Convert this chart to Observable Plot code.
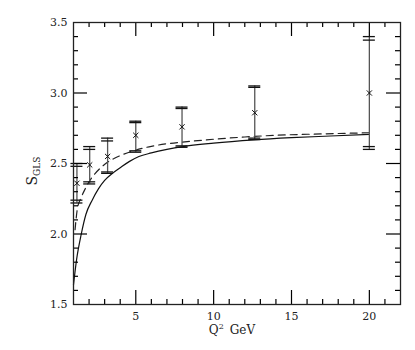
<!DOCTYPE html>
<html><head><meta charset="utf-8">
<script src="https://cdn.jsdelivr.net/npm/d3@7"></script>
<script src="https://cdn.jsdelivr.net/npm/@observablehq/plot@0.6"></script>
<style>body{margin:0;background:#fff}</style>
</head><body><div id="chart"></div>
<script>
// Data points (Q^2, S_GLS) with double error caps
const q2Points = [1.22, 2.04, 3.19, 5.0, 7.97, 12.64, 20.0];
const sValues  = [2.36, 2.49, 2.55, 2.70, 2.76, 2.86, 3.00];
const hiOuter  = [2.50, 2.62, 2.68, 2.80, 2.90, 3.05, 3.40];
const hiInner  = [2.48, 2.60, 2.66, 2.79, 2.89, 3.04, 3.375];
const loInner  = [2.24, 2.37, 2.44, 2.59, 2.625, 2.68, 2.62];
const loOuter  = [2.22, 2.355, 2.43, 2.58, 2.615, 2.67, 2.60];

// Solid theory curve
const solidQ2 = [1.0, 1.2, 1.5, 1.8, 2.2, 2.6, 3.0, 3.5, 4.0, 4.6, 5.2, 6.0, 7.0, 8.0, 10.0, 12.6, 15.0, 17.5, 20.0];
const solidS  = [1.64, 1.82, 2.00, 2.14, 2.24, 2.32, 2.38, 2.43, 2.47, 2.515, 2.55, 2.575, 2.60, 2.62, 2.645, 2.668, 2.683, 2.695, 2.706];

// Dashed theory curve
const dashQ2 = [1.1, 1.25, 1.5, 1.75, 2.0, 2.4, 2.8, 3.2, 3.6, 4.2, 5.0, 6.0, 7.0, 8.3, 10.0, 12.0, 14.0, 17.0, 20.0];
const dashS  = [2.03, 2.18, 2.26, 2.32, 2.37, 2.43, 2.475, 2.51, 2.535, 2.565, 2.595, 2.622, 2.64, 2.655, 2.672, 2.688, 2.70, 2.71, 2.718];

// Tick labels
const xTickLabels = [5, 10, 15, 20];
const yTickLabels = [1.5, 2.0, 2.5, 3.0, 3.5];

const W = 415, H = 350, mL = 73, mR = 15, mT = 22, mB = 46;
const xDom = [1, 22], yDom = [1.5, 3.5];
const fw = W - mL - mR, fh = H - mT - mB;
const pxX = fw / (xDom[1] - xDom[0]);
const pxY = fh / (yDom[1] - yDom[0]);

const points = q2Points.map((q, i) => ({q, s: sValues[i], ho: hiOuter[i], hi: hiInner[i], li: loInner[i], lo: loOuter[i]}));
const solid = solidQ2.map((q, i) => ({q, s: solidS[i]}));
const dashed = dashQ2.map((q, i) => ({q, s: dashS[i]}));

// Tick mark tables (inward ticks on all four sides)
const xTickRows = d3.range(2, 22).map(v => ({v, len: v % 5 === 0 ? 14 : 5}));
const yTickRows = d3.range(16, 35).map(k => ({v: k / 10, len: k % 5 === 0 ? 14 : 5}));

const chart = Plot.plot({
  width: W, height: H,
  marginLeft: mL, marginRight: mR, marginTop: mT, marginBottom: mB,
  style: {fontFamily: "DejaVu Serif", fontSize: "11px", color: "#222", background: "#fff"},
  x: {domain: xDom, label: null},
  y: {domain: yDom, label: null},
  marks: [
    Plot.axisX({ticks: xTickLabels, tickSize: 0, tickPadding: 8, label: null}),
    Plot.axisY({ticks: yTickLabels, tickSize: 0, tickPadding: 6, tickFormat: d3.format(".1f"), label: null}),
    Plot.line(solid, {x: "q", y: "s", curve: "monotone-x", stroke: "#111", strokeWidth: 1.2}),
    Plot.line(dashed, {x: "q", y: "s", curve: "monotone-x", stroke: "#222", strokeWidth: 1.2, strokeDasharray: "7,5"}),
    Plot.ruleX(points, {x: "q", y1: "lo", y2: "ho", stroke: "#555", strokeWidth: 1.3}),
    Plot.ruleY(points, {y: "ho", x1: "q", x2: "q", insetLeft: -6, insetRight: -6, stroke: "#111", strokeWidth: 1.3}),
    Plot.ruleY(points, {y: "hi", x1: "q", x2: "q", insetLeft: -6, insetRight: -6, stroke: "#111", strokeWidth: 1.3}),
    Plot.ruleY(points, {y: "li", x1: "q", x2: "q", insetLeft: -6, insetRight: -6, stroke: "#111", strokeWidth: 1.3}),
    Plot.ruleY(points, {y: "lo", x1: "q", x2: "q", insetLeft: -6, insetRight: -6, stroke: "#111", strokeWidth: 1.3}),
    Plot.dot(points, {x: "q", y: "s", symbol: "times", r: 2.5, stroke: "#111", strokeWidth: 1}),
    Plot.ruleX(xTickRows, {x: "v", y1: () => yDom[0], y2: d => yDom[0] + d.len / pxY, stroke: "#000", strokeWidth: 1.2}),
    Plot.ruleX(xTickRows, {x: "v", y1: () => yDom[1], y2: d => yDom[1] - d.len / pxY, stroke: "#000", strokeWidth: 1.2}),
    Plot.ruleY(yTickRows, {y: "v", x1: () => xDom[0], x2: d => xDom[0] + d.len / pxX, stroke: "#000", strokeWidth: 1.2}),
    Plot.ruleY(yTickRows, {y: "v", x1: () => xDom[1], x2: d => xDom[1] - d.len / pxX, stroke: "#000", strokeWidth: 1.2}),
    Plot.frame({stroke: "#222", strokeWidth: 1.3})
  ]
});

document.getElementById("chart").appendChild(chart);
const svg = d3.select(chart);

// y-axis label S_GLS
const yl = svg.append("text")
  .attr("transform", "translate(37,171) rotate(-90)")
  .attr("text-anchor", "middle")
  .attr("font-family", "DejaVu Serif")
  .attr("fill", "#222");
yl.append("tspan").attr("font-size", 14).text("S");
yl.append("tspan").attr("font-size", 9).attr("dy", 3).text("GLS");
// x-axis label Q^2 GeV
const xl = svg.append("text")
  .attr("x", 232).attr("y", 334)
  .attr("text-anchor", "middle")
  .attr("font-family", "DejaVu Serif")
  .attr("font-size", 12)
  .attr("fill", "#222");
xl.append("tspan").text("Q");
xl.append("tspan").attr("font-size", 8).attr("dy", -5).text("2");
xl.append("tspan").attr("dy", 5).attr("dx", 6).text("GeV");
</script>
</body></html>
